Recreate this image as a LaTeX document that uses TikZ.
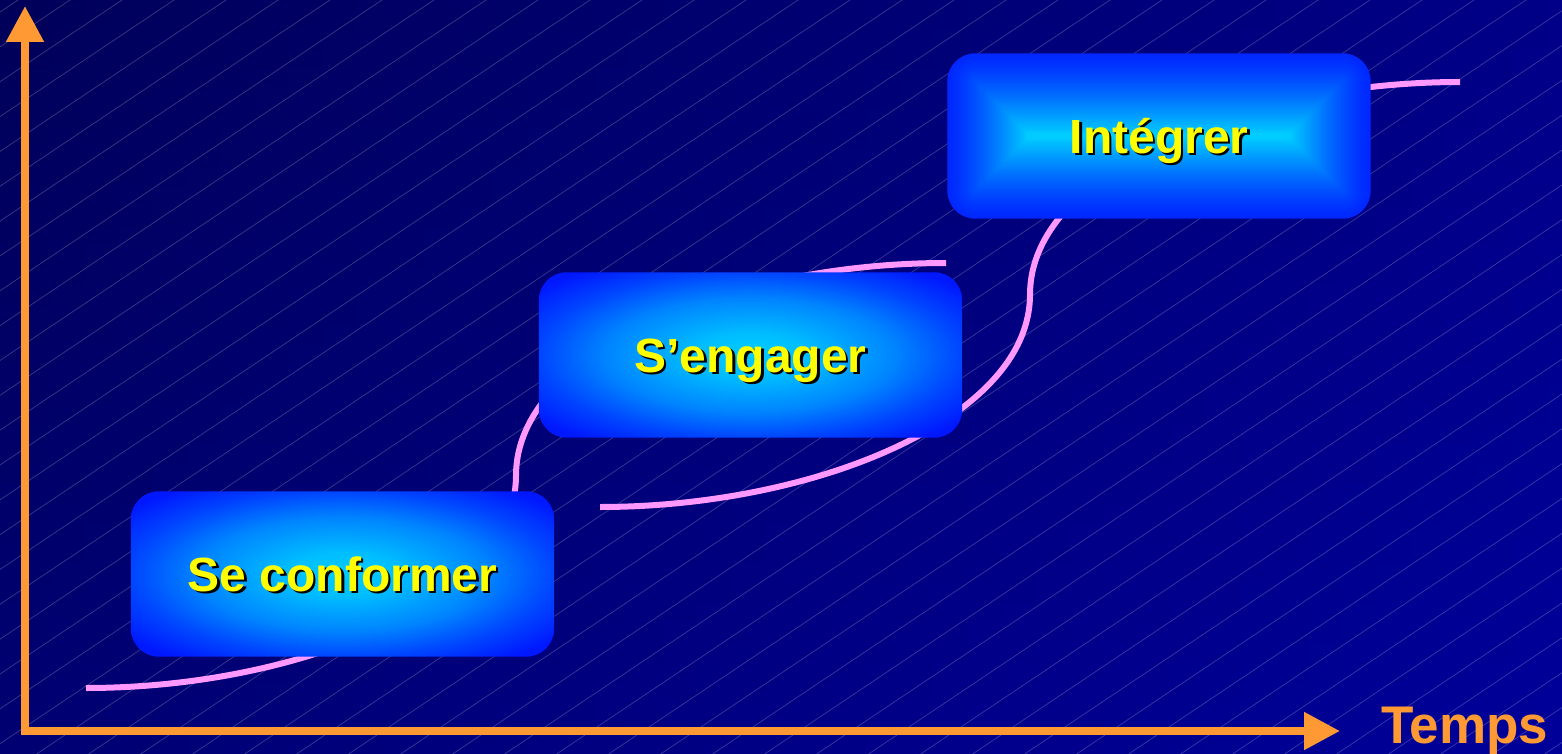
\documentclass[tikz,border=0pt]{standalone}
\usepackage{fontspec}
\setmainfont{Liberation Sans}
\usetikzlibrary{arrows.meta,calc,fadings}
\definecolor{bgL}{HTML}{00005A}
\definecolor{bgR}{HTML}{000088}
\definecolor{axisorange}{HTML}{FF9933}
\definecolor{curvepink}{HTML}{FF99FF}
\definecolor{boxedge}{HTML}{0018FF}
\definecolor{boxedgeB}{HTML}{0028FF}
\definecolor{boxc1}{HTML}{0045FF}
\definecolor{boxc2}{HTML}{0085FF}
\definecolor{boxc3}{HTML}{00BEFF}
\definecolor{boxcenter}{HTML}{00CCFF}
\definecolor{labelyellow}{HTML}{FFFF00}
\pgfdeclareradialshading{stageshade}{\pgfpoint{0bp}{0bp}}{%
  color(0bp)=(boxcenter); color(6.5bp)=(boxc3); color(17bp)=(boxc2);
  color(25bp)=(boxc1); color(32bp)=(boxedge); color(100bp)=(boxedge)}
\pgfdeclarelayer{back}
\pgfdeclarelayer{curves}
\pgfdeclarelayer{boxes}
\pgfsetlayers{back,curves,boxes,main}
\tikzfading[name=bgfade, top color=transparent!100, bottom color=transparent!85]
\newcommand{\shadowlabel}[1]{\rlap{\kern2.5pt\raisebox{-2.5pt}{\textcolor{black}{#1}}}\textcolor{labelyellow}{#1}}
\begin{document}
\begin{tikzpicture}[x=1pt,y=-1pt,
  stage/.style={minimum width=423pt, minimum height=165pt, inner sep=0pt,
    text height=34.4pt, text depth=0pt, font=\fontsize{48}{56}\selectfont\bfseries},
  axisline/.style={draw=axisorange, line width=8pt, line cap=butt,
    -{Triangle[length=36pt,width=36pt]}},
  scurve/.style={draw=curvepink, line width=6pt, line cap=butt},
  hatch/.style={draw=white, draw opacity=0.22, line width=0.7pt},
  roundfill/.style={shading=stageshade, rounded corners=28pt}]
\useasboundingbox (0,0) rectangle (1562,754);

% stage boxes (text on main layer)
\node[stage] (conf)  at (342.5,574) {\shadowlabel{Se conformer}};
\node[stage] (eng)   at (750.5,355) {\shadowlabel{S’engager}};
\node[stage] (integ) at (1159,136)  {\shadowlabel{Intégrer}};

% background, hatching, axes
\begin{pgfonlayer}{back}
  \shade[left color=bgL, right color=bgR] (0,0) rectangle (1562,754);
  \fill[blue, path fading=bgfade] (0,0) rectangle (1562,754);
  \begin{scope}
    \clip (0,0) rectangle (1562,754);
    \foreach \k in {0,...,52}{
      \pgfmathsetmacro\gc{18+52*\k}
      \draw[hatch] (\gc,0) -- ++(-1125.4,754);
    }
  \end{scope}
  \coordinate (ybase) at (25,735);
  \coordinate (ytip)  at (25,6);
  \coordinate (xbase) at (21,731);
  \coordinate (xtip)  at (1340,731);
  \draw[axisline] (ybase) -- (ytip);
  \draw[axisline] (xbase) -- (xtip);
\end{pgfonlayer}

\node[anchor=base west, inner sep=0pt, text=axisorange,
  font=\fontsize{53}{60}\selectfont\bfseries] (temps) at (1381,743) {Temps};

% S-curves behind the boxes
\begin{pgfonlayer}{curves}
  \coordinate (c1s) at (86,688);
  \coordinate (c1e) at (946,263);
  \coordinate (c2s) at (600,507);
  \coordinate (c2e) at (1460,82);
  \draw[scurve] (c1s) .. controls (300,688) and (516,600) .. (516,475.5)
                .. controls (516,351) and (732,263) .. (c1e);
  \draw[scurve] (c2s) .. controls (814,507) and (1030,419) .. (1030,294.5)
                .. controls (1030,170) and (1246,82) .. (c2e);
\end{pgfonlayer}

\begin{pgfonlayer}{boxes}
  % elliptical glow for the two lower boxes
  \foreach \b in {conf,eng}{
    \shade[roundfill] (\b.north west) rectangle (\b.south east);
  }
  % rectangular "from centre" gradient for the top box
  \foreach \i in {0,...,40}{
    \pgfmathsetmacro\gd{\i*2}
    \pgfmathsetmacro\gp{100*(\i/40)^1.3}
    \pgfmathsetmacro\gr{max(28-\gd,1)}
    \fill[boxcenter!\gp!boxedgeB, rounded corners=\gr pt]
      ($(integ.north west)+(\gd,\gd)$) rectangle ($(integ.south east)+(-\gd,-\gd)$);
  }
\end{pgfonlayer}
\end{tikzpicture}
\end{document}
